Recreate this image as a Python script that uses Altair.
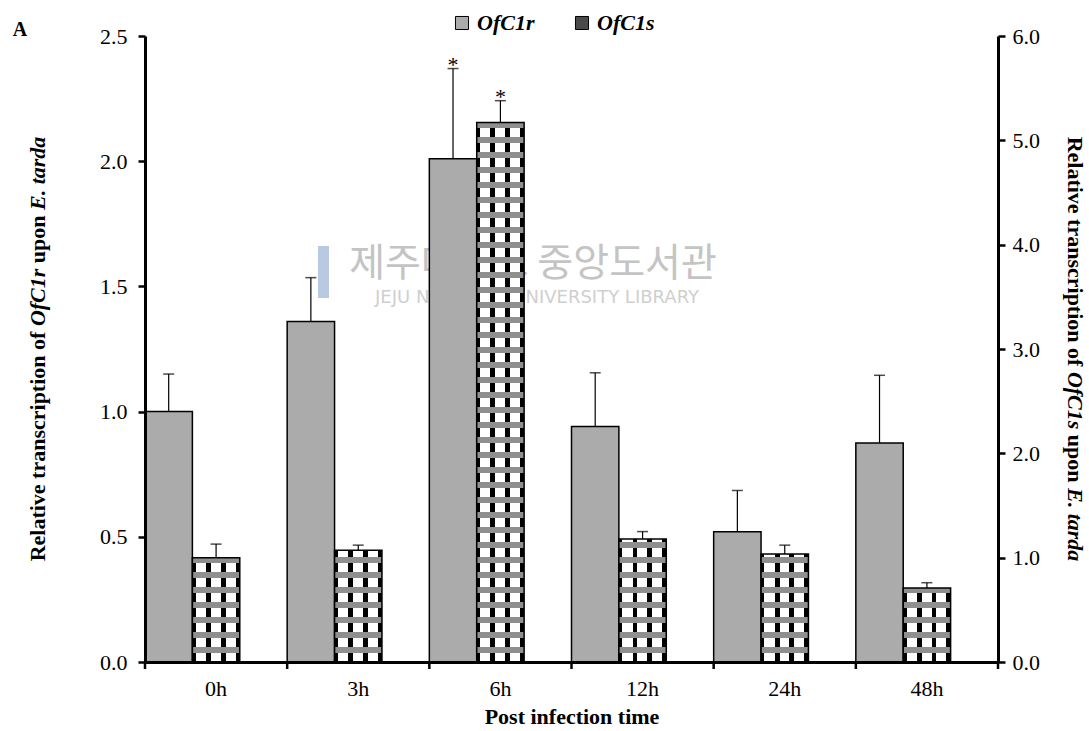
import altair as alt
import pandas as pd

# ---- data -------------------------------------------------------------
times = ["0h", "3h", "6h", "12h", "24h", "48h"]
series = ["OfC1r", "OfC1s"]

ofc1r_mean = [1.00, 1.36, 2.01, 0.94, 0.52, 0.875]
ofc1r_sd = [0.15, 0.175, 0.36, 0.215, 0.165, 0.27]

ofc1s_mean = [1.00, 1.07, 5.17, 1.18, 1.035, 0.71]
ofc1s_sd = [0.13, 0.05, 0.21, 0.07, 0.085, 0.05]

signif = ["", "", "*", "", "", ""]

left_ticks = [0.0, 0.5, 1.0, 1.5, 2.0, 2.5]
right_ticks = [0.0, 1.0, 2.0, 3.0, 4.0, 5.0, 6.0]

r_df = pd.DataFrame({"time": times, "series": "OfC1r", "value": ofc1r_mean,
                     "sd": ofc1r_sd, "sig": signif})
r_df["upper"] = r_df["value"] + r_df["sd"]
s_df = pd.DataFrame({"time": times, "series": "OfC1s", "value": ofc1s_mean,
                     "sd": ofc1s_sd, "sig": signif})
s_df["upper"] = s_df["value"] + s_df["sd"]
one = pd.DataFrame({"k": [0]})

# ---- style ------------------------------------------------------------
FONT = "Liberation Serif"
W, H = 853, 626
R_FILL = "#ababab"
S_FILL = "#4a4a4a"
FS = 22

x_axis = alt.Axis(title="Post infection time", ticks=False, labelAngle=0,
                  domainColor="black", domainWidth=3, labelFont=FONT,
                  labelFontSize=FS, labelColor="black", labelPadding=16,
                  titleFont=FONT, titleFontSize=FS, titleFontWeight="bold",
                  titleColor="black", titlePadding=7, zindex=1)
x_enc = alt.X("time:N", sort=times,
              scale=alt.Scale(domain=times, paddingInner=0, paddingOuter=0),
              axis=x_axis)
xo = alt.XOffset("series:N", scale=alt.Scale(domain=["OfC1r", "OfC1s", "gap"],
                                              paddingInner=0, paddingOuter=0))

yl_scale = alt.Scale(domain=[0, 2.5], nice=False, zero=True)
yl_axis = alt.Axis(values=left_ticks, format=".1f", title=None, grid=False,
                   domainColor="black", domainWidth=3, tickColor="black",
                   tickWidth=2.5, tickSize=7, labelFont=FONT, labelFontSize=FS,
                   labelColor="black", labelPadding=11, zindex=1)
yr_scale = alt.Scale(domain=[0, 6], nice=False, zero=True)
yr_axis = alt.Axis(values=right_ticks, format=".1f", title=None, grid=False,
                   orient="right", domainColor="black", domainWidth=3,
                   tickColor="black", tickWidth=2.5, tickSize=7, labelFont=FONT,
                   labelFontSize=FS, labelColor="black", labelPadding=7, zindex=1)


def yl(field):
    return alt.Y(field, scale=yl_scale, axis=yl_axis)


def yr(field):
    return alt.Y(field, scale=yr_scale, axis=yr_axis)


# ---- mixed bold / bold-italic axis titles -----------------------------
BOLD_W = {" ": 250, ".": 250, "R": 722, "E": 667, "a": 500, "c": 444, "d": 556,
          "e": 444, "f": 333, "i": 278, "l": 278, "n": 556, "o": 500, "p": 556,
          "r": 444, "s": 389, "t": 333, "u": 556, "v": 500}
BOLD_IT_W = {" ": 250, ".": 250, "O": 722, "f": 333, "C": 667, "1": 500,
             "r": 389, "s": 389, "E": 667, "t": 278, "a": 500, "d": 500}


def rich_title(parts, size, cx, cy, angle):
    widths = []
    for txt, italic in parts:
        table = BOLD_IT_W if italic else BOLD_W
        widths.append(sum(table[c] for c in txt) * size / 1000)
    total = sum(widths)
    out = []
    start = 0.0
    for (txt, italic), w in zip(parts, widths):
        lead = (len(txt) - len(txt.lstrip(" "))) * 250 * size / 1000
        s = start + lead
        y = cy + total / 2 - s if angle == 270 else cy - total / 2 + s
        out.append(
            alt.Chart(one).mark_text(
                text=txt.strip(), angle=angle, align="left", baseline="middle",
                font=FONT, fontSize=size, fontWeight="bold",
                fontStyle="italic" if italic else "normal", color="black"
            ).encode(x=alt.value(cx), y=alt.value(y))
        )
        start += w
    return out


left_title = rich_title([("Relative transcription of ", False), ("OfC1r", True),
                         (" upon ", False), ("E. tarda", True)],
                        FS, -107, H / 2, 270)
right_title = rich_title([("Relative transcription of ", False), ("OfC1s", True),
                          (" upon ", False), ("E. tarda", True)],
                         FS, 930, H / 2, 90)

panel_tag = alt.Chart(one).mark_text(
    text="A", font=FONT, fontSize=20, fontWeight="bold", color="black",
    align="center", baseline="middle"
).encode(x=alt.value(-125), y=alt.value(-6))

# faint library watermark behind the bars
wm_kr = alt.Chart(one).mark_text(
    text="제주대학교 중앙도서관", font="Noto Sans CJK KR", fontSize=39,
    color="#c4c4c4", align="center", baseline="middle"
).encode(x=alt.value(388), y=alt.value(228))
wm_en = alt.Chart(one).mark_text(
    text="JEJU NATIONAL UNIVERSITY LIBRARY", font="DejaVu Sans", fontSize=18,
    color="#cfcfcf", align="center", baseline="middle"
).encode(x=alt.value(392), y=alt.value(262))
wm_bar = alt.Chart(one).mark_rect(color="#b9c9e3").encode(
    x=alt.value(173), x2=alt.value(184), y=alt.value(210), y2=alt.value(262))

# ---- OfC1r (left axis) ------------------------------------------------
bars_r = alt.Chart(r_df).mark_bar(stroke="black", strokeWidth=1.5).encode(
    x=x_enc, xOffset=xo, y=yl("value:Q"),
    fill=alt.Fill("series:N", scale=alt.Scale(domain=series, range=[R_FILL, S_FILL]),
                  legend=alt.Legend(title=None, orient="none", direction="horizontal",
                                    legendX=306, legendY=-24, padding=0,
                                    symbolType="square", symbolSize=170,
                                    symbolStrokeColor="black", symbolStrokeWidth=1,
                                    labelFont=FONT, labelFontSize=FS,
                                    labelFontStyle="italic", labelFontWeight="bold",
                                    labelColor="black", labelOffset=4,
                                    columnPadding=36))
)
err_r = alt.Chart(r_df).mark_rule(color="black", strokeWidth=1.2).encode(
    x=x_enc, xOffset=xo, y=yl("value:Q"), y2="upper:Q")
cap_r = alt.Chart(r_df).mark_tick(color="black", thickness=1.5, size=11).encode(
    x=x_enc, xOffset=xo, y=yl("upper:Q"))
star_r = alt.Chart(r_df).transform_filter("datum.sig != ''").mark_text(
    font=FONT, fontSize=FS, baseline="bottom", dy=8, color="black"
).encode(x=x_enc, xOffset=xo, y=yl("upper:Q"), text="sig:N")

xticks = alt.Chart(pd.DataFrame({"time": times})).mark_rule(
    color="black", strokeWidth=2.5
).encode(x=alt.X("time:N", sort=times, bandPosition=0,
                 scale=alt.Scale(domain=times, paddingInner=0, paddingOuter=0),
                 axis=x_axis),
         y=alt.value(H), y2=alt.value(H + 7))
xtick_end = alt.Chart(one).mark_rule(color="black", strokeWidth=2.5).encode(
    x=alt.value(W), y=alt.value(H), y2=alt.value(H + 7))

left = alt.layer(wm_bar, wm_kr, wm_en, bars_r, err_r, cap_r, star_r, xticks,
                 xtick_end, panel_tag, *left_title, *right_title)

# ---- OfC1s (right axis) -----------------------------------------------
checker = {
    "gradient": "linear", "x1": 0, "y1": 0, "x2": 1, "y2": 0,
    "stops": [
        {"offset": 0.0, "color": "black"}, {"offset": 0.07, "color": "black"},
        {"offset": 0.07, "color": "white"}, {"offset": 0.29, "color": "white"},
        {"offset": 0.29, "color": "black"}, {"offset": 0.39, "color": "black"},
        {"offset": 0.39, "color": "white"}, {"offset": 0.60, "color": "white"},
        {"offset": 0.60, "color": "black"}, {"offset": 0.70, "color": "black"},
        {"offset": 0.70, "color": "white"}, {"offset": 0.91, "color": "white"},
        {"offset": 0.91, "color": "black"}, {"offset": 1.0, "color": "black"},
    ],
}
bars_s = alt.Chart(s_df).mark_bar(fill=checker).encode(
    x=x_enc, xOffset=xo, y=yr("value:Q"))
stripes = alt.Chart(s_df).transform_calculate(
    band_lo="sequence(0.086, datum.value, 0.1438)"
).transform_flatten(["band_lo"]).transform_calculate(
    band_hi="min(datum.band_lo + 0.0575, datum.value)"
).mark_bar(color="#8f8f8f").encode(
    x=x_enc, xOffset=xo, y=yr("band_lo:Q"), y2="band_hi:Q")
outline_s = alt.Chart(s_df).mark_bar(fillOpacity=0, stroke="black", strokeWidth=1.5).encode(
    x=x_enc, xOffset=xo, y=yr("value:Q"))
err_s = alt.Chart(s_df).mark_rule(color="black", strokeWidth=1.2).encode(
    x=x_enc, xOffset=xo, y=yr("value:Q"), y2="upper:Q")
cap_s = alt.Chart(s_df).mark_tick(color="black", thickness=1.5, size=11).encode(
    x=x_enc, xOffset=xo, y=yr("upper:Q"))
star_s = alt.Chart(s_df).transform_filter("datum.sig != ''").mark_text(
    font=FONT, fontSize=FS, baseline="bottom", dy=8, color="black"
).encode(x=x_enc, xOffset=xo, y=yr("upper:Q"), text="sig:N")

right = alt.layer(bars_s, stripes, outline_s, err_s, cap_s, star_s)

chart = alt.layer(left, right).resolve_scale(y="independent").properties(
    width=W, height=H,
    padding={"left": 145, "top": 36, "right": 91, "bottom": 69},
    autosize=alt.AutoSizeParams(type="none"),
    background="white",
).configure_view(strokeWidth=0)

chart.save("out.html", embed_options={"renderer": "svg", "actions": False})
